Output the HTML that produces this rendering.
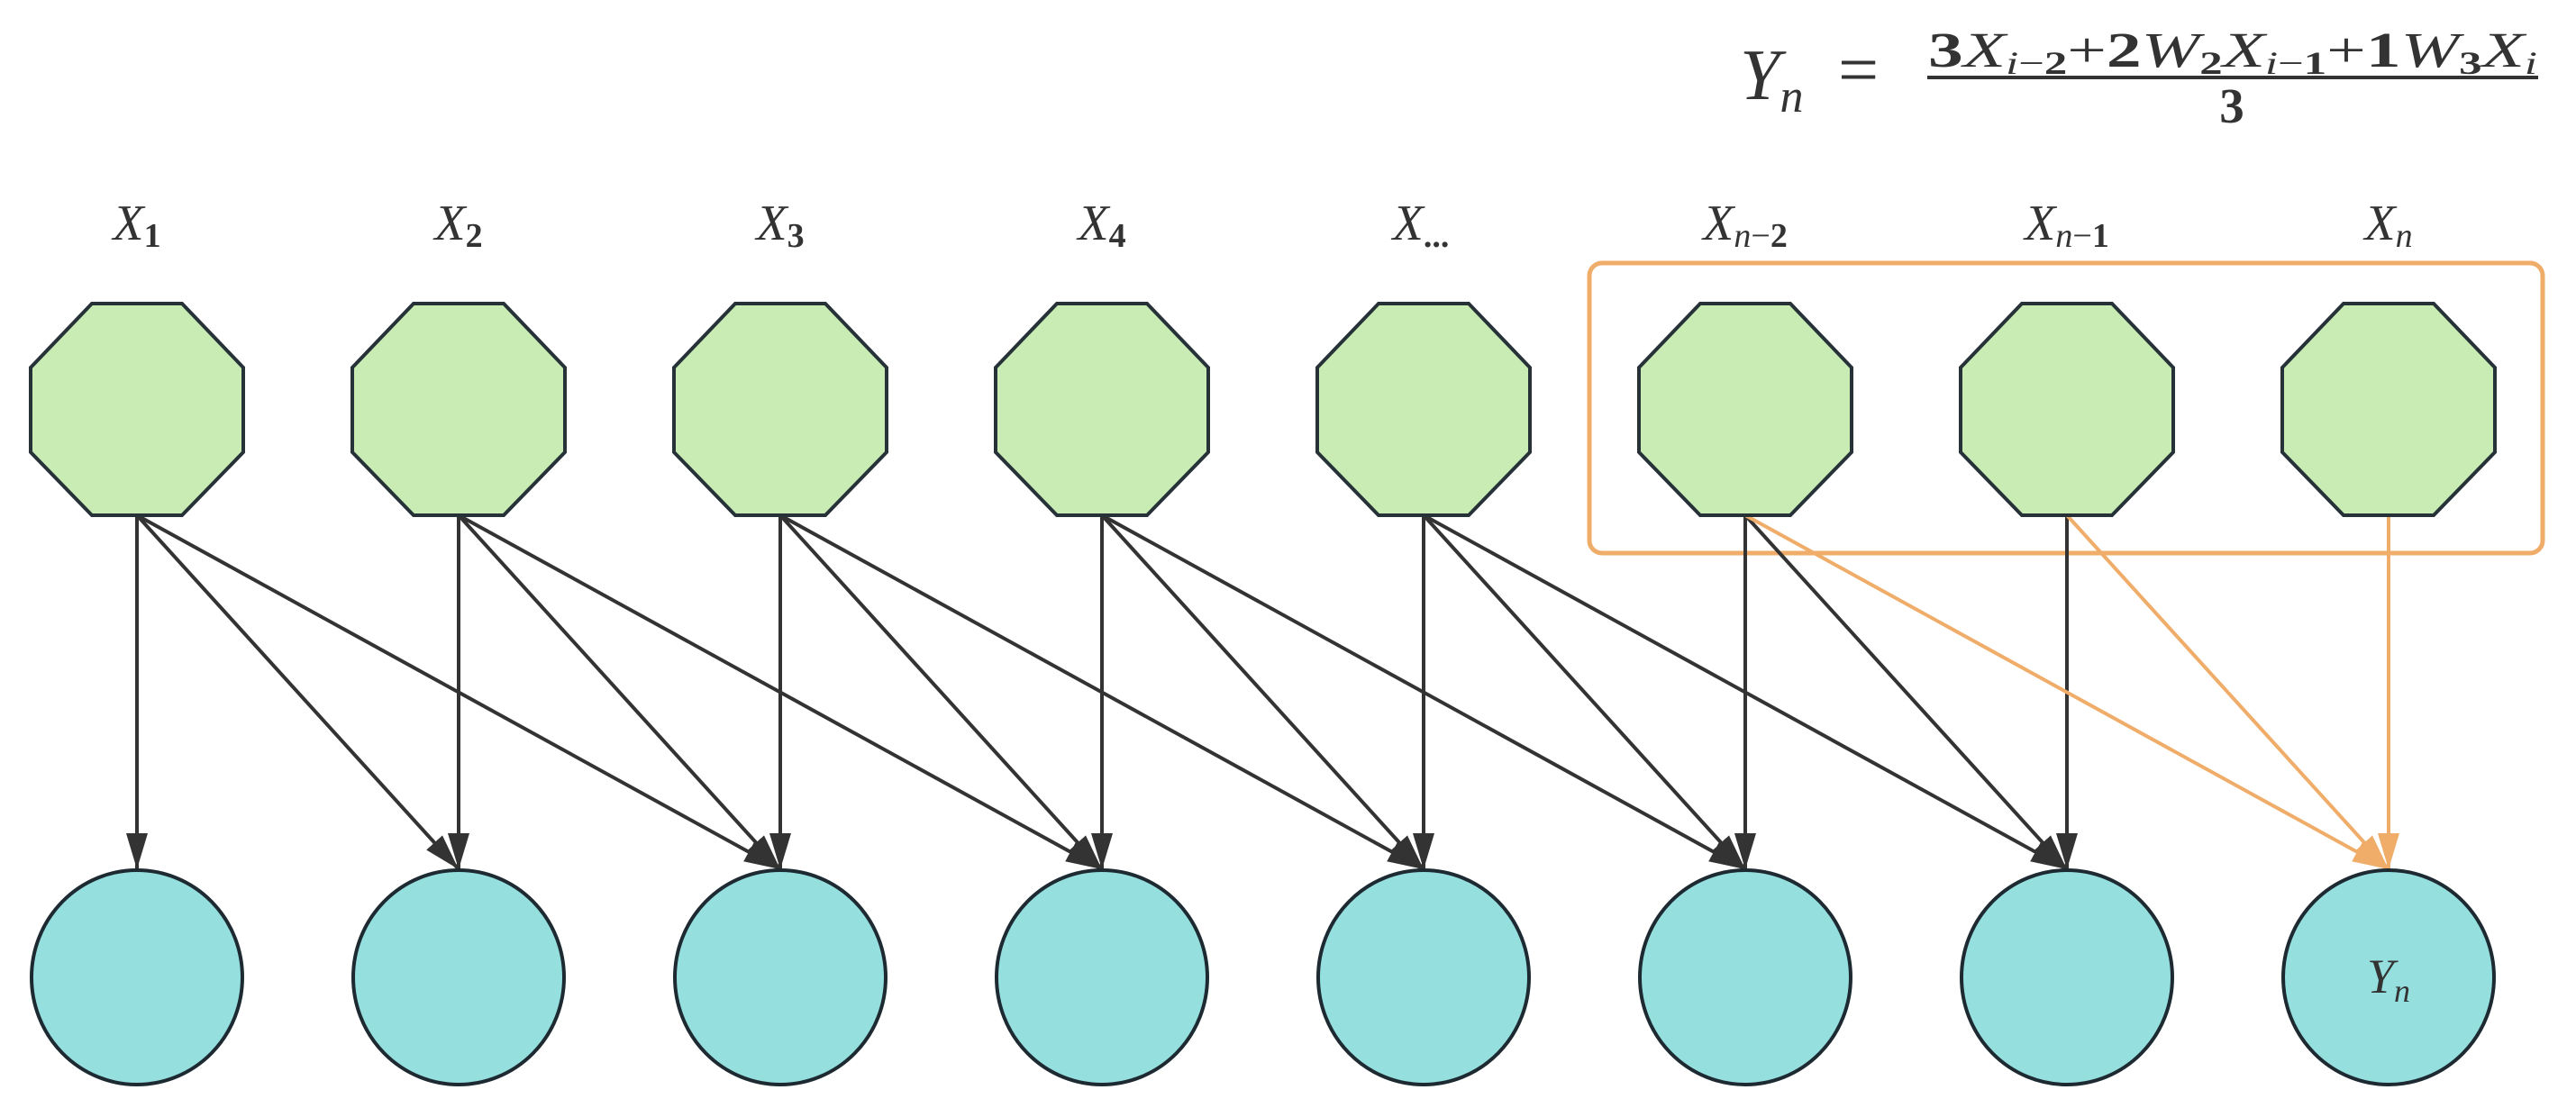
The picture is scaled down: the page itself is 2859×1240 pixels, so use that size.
<!DOCTYPE html>
<html><head><meta charset="utf-8"><style>
html,body{margin:0;padding:0;background:#fff;}
svg{display:block;}
text{font-family:"Liberation Serif",serif;fill:#333;}
</style></head><body>
<svg width="2859" height="1240" viewBox="0 0 2859 1240" xmlns="http://www.w3.org/2000/svg">
<defs>
<marker id="ab" markerUnits="userSpaceOnUse" markerWidth="44" markerHeight="30" refX="40" refY="14" orient="auto">
<path d="M0,2 L40,14 L0,26 Z" fill="#333"/>
</marker>
<marker id="ao" markerUnits="userSpaceOnUse" markerWidth="44" markerHeight="30" refX="40" refY="14" orient="auto">
<path d="M0,2 L40,14 L0,26 Z" fill="#f0ad6a"/>
</marker>
</defs>

<!-- formula -->
<text x="1931" y="110" font-size="80" font-style="italic">Y<tspan font-size="52" dy="14">n</tspan></text>
<text x="2040" y="104" font-size="80">=</text>
<text x="2478" y="74" font-size="55" text-anchor="middle" textLength="676" lengthAdjust="spacingAndGlyphs"><tspan font-weight="bold" font-style="normal">3</tspan><tspan font-style="italic">X</tspan><tspan font-style="italic" font-size="36" dy="8">i</tspan><tspan font-size="36">−</tspan><tspan font-size="36" font-weight="bold">2</tspan><tspan dy="-8">+</tspan><tspan font-weight="bold">2</tspan><tspan font-style="italic">W</tspan><tspan font-size="36" font-weight="bold" dy="8">2</tspan><tspan font-style="italic" dy="-8">X</tspan><tspan font-style="italic" font-size="36" dy="8">i</tspan><tspan font-size="36">−</tspan><tspan font-size="36" font-weight="bold">1</tspan><tspan dy="-8">+</tspan><tspan font-weight="bold">1</tspan><tspan font-style="italic">W</tspan><tspan font-size="36" font-weight="bold" dy="8">3</tspan><tspan font-style="italic" dy="-8">X</tspan><tspan font-style="italic" font-size="36" dy="8">i</tspan></text>
<rect x="2139" y="84" width="678" height="4" fill="#333"/>
<text x="2477" y="136" font-size="55" font-weight="bold" text-anchor="middle">3</text>

<!-- orange box -->
<rect x="1764" y="292" width="1058" height="322" rx="14" fill="none" stroke="#f0ad6a" stroke-width="5"/>

<!-- edges -->
<g stroke="#333" stroke-width="4" fill="none">
<line x1="152" y1="572" x2="152" y2="965" marker-end="url(#ab)"/>
<line x1="152" y1="572" x2="509" y2="965" marker-end="url(#ab)"/>
<line x1="152" y1="572" x2="866" y2="965" marker-end="url(#ab)"/>
<line x1="509" y1="572" x2="509" y2="965" marker-end="url(#ab)"/>
<line x1="509" y1="572" x2="866" y2="965" marker-end="url(#ab)"/>
<line x1="509" y1="572" x2="1223" y2="965" marker-end="url(#ab)"/>
<line x1="866" y1="572" x2="866" y2="965" marker-end="url(#ab)"/>
<line x1="866" y1="572" x2="1223" y2="965" marker-end="url(#ab)"/>
<line x1="866" y1="572" x2="1580" y2="965" marker-end="url(#ab)"/>
<line x1="1223" y1="572" x2="1223" y2="965" marker-end="url(#ab)"/>
<line x1="1223" y1="572" x2="1580" y2="965" marker-end="url(#ab)"/>
<line x1="1223" y1="572" x2="1937" y2="965" marker-end="url(#ab)"/>
<line x1="1580" y1="572" x2="1580" y2="965" marker-end="url(#ab)"/>
<line x1="1580" y1="572" x2="1937" y2="965" marker-end="url(#ab)"/>
<line x1="1580" y1="572" x2="2294" y2="965" marker-end="url(#ab)"/>
<line x1="1937" y1="572" x2="1937" y2="965" marker-end="url(#ab)"/>
<line x1="1937" y1="572" x2="2294" y2="965" marker-end="url(#ab)"/>
<line x1="2294" y1="572" x2="2294" y2="965" marker-end="url(#ab)"/>
</g>
<g stroke="#f0ad6a" stroke-width="4" fill="none">
<line x1="1937" y1="572" x2="2651" y2="965" marker-end="url(#ao)"/>
<line x1="2294" y1="572" x2="2651" y2="965" marker-end="url(#ao)"/>
<line x1="2651" y1="572" x2="2651" y2="965" marker-end="url(#ao)"/>
</g>

<!-- octagons -->
<g fill="#c8ecb4" stroke="#263238" stroke-width="4">
<polygon points="-50,-118 50,-118 118,-47 118,47 50,117 -50,117 -118,47 -118,-47" transform="translate(152,455)"/>
<polygon points="-50,-118 50,-118 118,-47 118,47 50,117 -50,117 -118,47 -118,-47" transform="translate(509,455)"/>
<polygon points="-50,-118 50,-118 118,-47 118,47 50,117 -50,117 -118,47 -118,-47" transform="translate(866,455)"/>
<polygon points="-50,-118 50,-118 118,-47 118,47 50,117 -50,117 -118,47 -118,-47" transform="translate(1223,455)"/>
<polygon points="-50,-118 50,-118 118,-47 118,47 50,117 -50,117 -118,47 -118,-47" transform="translate(1580,455)"/>
<polygon points="-50,-118 50,-118 118,-47 118,47 50,117 -50,117 -118,47 -118,-47" transform="translate(1937,455)"/>
<polygon points="-50,-118 50,-118 118,-47 118,47 50,117 -50,117 -118,47 -118,-47" transform="translate(2294,455)"/>
<polygon points="-50,-118 50,-118 118,-47 118,47 50,117 -50,117 -118,47 -118,-47" transform="translate(2651,455)"/>
</g>

<!-- ellipses -->
<g fill="#95dfdf" stroke="#1e2a32" stroke-width="4">
<ellipse cx="152" cy="1085" rx="117" ry="119"/>
<ellipse cx="509" cy="1085" rx="117" ry="119"/>
<ellipse cx="866" cy="1085" rx="117" ry="119"/>
<ellipse cx="1223" cy="1085" rx="117" ry="119"/>
<ellipse cx="1580" cy="1085" rx="117" ry="119"/>
<ellipse cx="1937" cy="1085" rx="117" ry="119"/>
<ellipse cx="2294" cy="1085" rx="117" ry="119"/>
<ellipse cx="2651" cy="1085" rx="117" ry="119"/>
</g>
<text x="2651" y="1102" font-size="54" font-style="italic" text-anchor="middle">Y<tspan font-size="36" dy="10">n</tspan></text>

<!-- labels -->
<g font-size="56" text-anchor="middle">
<text x="152" y="266"><tspan font-style="italic">X</tspan><tspan font-size="38" font-weight="bold" dy="8">1</tspan></text>
<text x="509" y="266"><tspan font-style="italic">X</tspan><tspan font-size="38" font-weight="bold" dy="8">2</tspan></text>
<text x="866" y="266"><tspan font-style="italic">X</tspan><tspan font-size="38" font-weight="bold" dy="8">3</tspan></text>
<text x="1223" y="266"><tspan font-style="italic">X</tspan><tspan font-size="38" font-weight="bold" dy="8">4</tspan></text>
<text x="1577" y="266"><tspan font-style="italic">X</tspan><tspan font-size="38" font-weight="bold" dy="8">...</tspan></text>
<text x="1937" y="266"><tspan font-style="italic">X</tspan><tspan font-size="38" font-style="italic" dy="8">n</tspan><tspan font-size="38">−</tspan><tspan font-size="38" font-weight="bold">2</tspan></text>
<text x="2294" y="266"><tspan font-style="italic">X</tspan><tspan font-size="38" font-style="italic" dy="8">n</tspan><tspan font-size="38">−</tspan><tspan font-size="38" font-weight="bold">1</tspan></text>
<text x="2651" y="266"><tspan font-style="italic">X</tspan><tspan font-size="38" font-style="italic" dy="8">n</tspan></text>
</g>
</svg>
</body></html>
